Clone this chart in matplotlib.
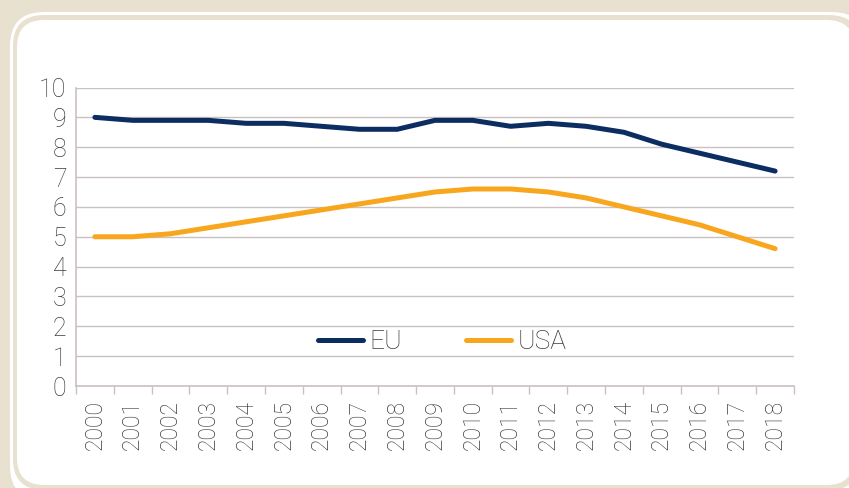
import matplotlib
matplotlib.use('Agg')
import matplotlib.pyplot as plt
from matplotlib.patches import FancyBboxPatch

years = [str(y) for y in range(2000, 2019)]
eu = [9.0, 8.9, 8.9, 8.9, 8.8, 8.8, 8.7, 8.6, 8.6, 8.9, 8.9, 8.7, 8.8, 8.7, 8.5, 8.1, 7.8, 7.5, 7.2]
usa = [5.0, 5.0, 5.1, 5.3, 5.5, 5.7, 5.9, 6.1, 6.3, 6.5, 6.6, 6.6, 6.5, 6.3, 6.0, 5.7, 5.4, 5.0, 4.6]

beige = '#e8e1cf'
grid_c = '#c9c1bf'
txt_c = '#3c3c3c'
plt.rcParams['font.family'] = ['Roboto', 'DejaVu Sans']
plt.rcParams['font.weight'] = 'light'

W, H = 849, 488
fig = plt.figure(figsize=(W / 100, H / 100), dpi=100, facecolor=beige)

# rounded panel: white ring, beige line, white fill (behind the axes)
def panel(x0, y0, x1, y1, r, color):
    p = FancyBboxPatch((x0 / W, 1 - y1 / H), (x1 - x0) / W, (y1 - y0) / H,
                       boxstyle=f'round,pad=0,rounding_size={r / W}',
                       transform=fig.transFigure, facecolor=color,
                       edgecolor='none', mutation_aspect=W / H, zorder=-5)
    fig.patches.append(p)

panel(10, 12, 866, 500, 34, 'white')
panel(13, 15, 860, 490, 31, beige)
panel(17, 20, 854, 485, 27, 'white')

ax = fig.add_axes([76 / W, 1 - 386 / H, (794 - 76) / W, (386 - 87.5) / H])
ax.set_facecolor('none')
x = list(range(len(years)))
ax.plot(x, eu, color='#0b2d62', lw=3.6, solid_capstyle='round', label='EU')
ax.plot(x, usa, color='#f9a61f', lw=3.6, solid_capstyle='round', label='USA')

ax.set_xlim(-0.5, len(years) - 0.5)
ax.set_ylim(0, 10)
ax.set_yticks(range(0, 11))
ax.yaxis.grid(True, color=grid_c, lw=1)
ax.set_axisbelow(True)
ax.tick_params(axis='y', length=0, labelsize=18, labelcolor=txt_c, pad=7)

ax.set_xticks(x)
ax.set_xticklabels(years, rotation=90)
ax.set_xticks([i - 0.5 for i in range(len(years) + 1)], minor=True)
ax.tick_params(axis='x', which='major', length=0, labelsize=16.5, labelcolor=txt_c, pad=10)
ax.tick_params(axis='x', which='minor', length=6, color=grid_c, width=1)

for s in ['top', 'right']:
    ax.spines[s].set_visible(False)
for s in ['left', 'bottom']:
    ax.spines[s].set_color(grid_c)
    ax.spines[s].set_linewidth(1.2)

leg = ax.legend(loc='center', bbox_to_anchor=(0.51, 0.148), ncol=2, frameon=False,
                fontsize=19, handlelength=1.7, handletextpad=0.27, columnspacing=2.4)
for t in leg.get_texts():
    t.set_color(txt_c)

fig.savefig('out.png', dpi=100, facecolor=beige)
